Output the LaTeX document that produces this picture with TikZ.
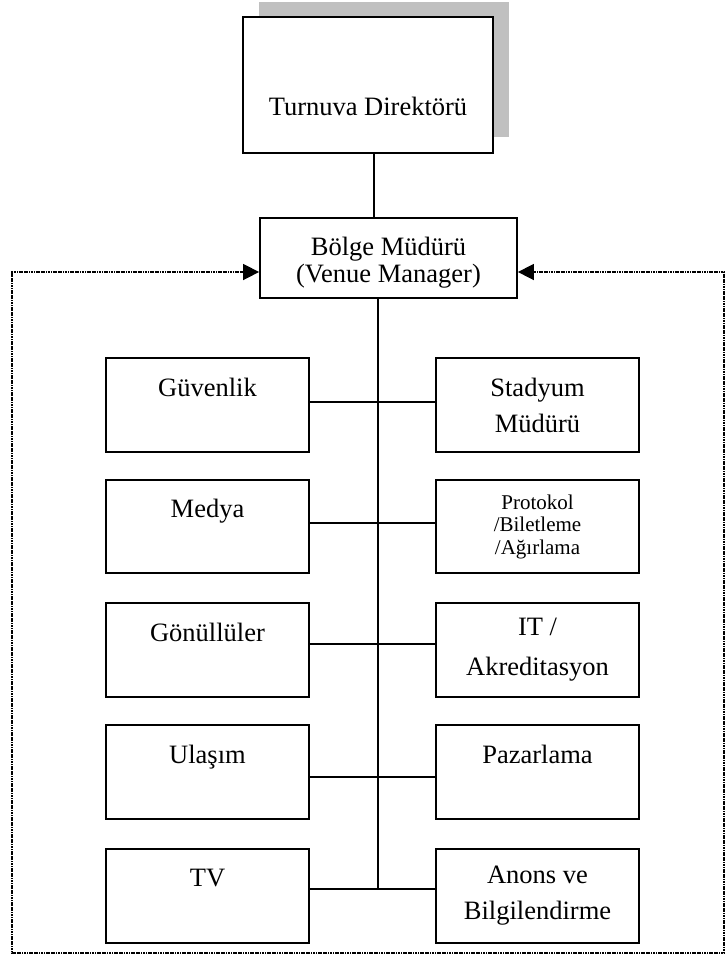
\documentclass[tikz,border=0pt]{standalone}
\usepackage{fontspec}
\setmainfont{Liberation Serif}
\usetikzlibrary{arrows.meta}
\begin{document}
\begin{tikzpicture}[x=1pt,y=-1pt,
  unit/.style={draw=black, line width=1.8pt, fill=white, rectangle, inner sep=0pt,
    align=center, minimum width=203pt, minimum height=94pt,
    font=\fontsize{26.5}{36}\selectfont},
  small/.style={font=\fontsize{21}{22.5}\selectfont},
  link/.style={line width=1.8pt},
  feedback/.style={line width=1.6pt, dash pattern=on 1.2pt off 0.5pt,
    {Triangle[length=16pt,width=16pt]}-{Triangle[length=16pt,width=16pt]}},
  label/.style={font=\fontsize{26.5}{30}\selectfont, align=center, inner sep=0pt}
]
\useasboundingbox (0,0) rectangle (725,954);

% director box with its offset shadow
\fill[fill={rgb,255:red,192;green,192;blue,192}] (259,2) rectangle (509,137);
\node[draw=black, line width=2.2pt, fill=white, minimum width=250pt, minimum height=136pt, inner sep=0pt]
  (tdir) at (368,85) {};
\node[label] (tdirtxt) at (368,106) {Turnuva Direktörü};

% venue manager (the strut lowers the two lines a little)
\node[unit, minimum width=257pt, minimum height=80pt, font=\fontsize{26.5}{27}\selectfont]
  (bolge) at (388.5,258) {\rule{0pt}{27pt}Bölge Müdürü\\(Venue Manager)};

% departments, left column
\node[unit] (guv) at (207.5,405)   {Güvenlik\\\mbox{}};
\node[unit, minimum height=93pt] (med) at (207.5,526.5) {Medya\\\mbox{}};
\node[unit] (gon) at (207.5,650)   {Gönüllüler\\\mbox{}};
\node[unit] (ula) at (207.5,772)   {Ulaşım\\\mbox{}};
\node[unit] (tv)  at (207.5,896)   {TV\\\mbox{}};

% departments, right column
\node[unit] (sta) at (537.5,405)   {Stadyum\\Müdürü};
\node[unit, minimum height=93pt, small] (pro) at (537.5,526.5) {Protokol\\/Biletleme\\/Ağırlama};
\node[unit, font=\fontsize{26.5}{40}\selectfont] (itk) at (537.5,650) {IT /\\Akreditasyon};
\node[unit] (paz) at (537.5,772)   {Pazarlama\\\mbox{}};
\node[unit] (ano) at (537.5,896)   {Anons ve\\Bilgilendirme};

% junctions on the central spine
\coordinate (top) at (374,0);
\coordinate (j1) at (378,402);
\coordinate (j2) at (378,523);
\coordinate (j3) at (378,644);
\coordinate (j4) at (378,777);
\coordinate (j5) at (378,889);

\draw[link] (tdir.south -| top) -- (bolge.north -| top);
\draw[link] (bolge.south -| j1) -- (j5);
\draw[link] (guv.east |- j1) -- (sta.west |- j1);
\draw[link] (med.east |- j2) -- (pro.west |- j2);
\draw[link] (gon.east |- j3) -- (itk.west |- j3);
\draw[link] (ula.east |- j4) -- (paz.west |- j4);
\draw[link] (tv.east |- j5) -- (ano.west |- j5);

% dotted feedback loop around the departments
\coordinate (fl) at (12,272);
\coordinate (fr) at (724,272);
\coordinate (fb) at (0,953);
\draw[feedback] (bolge.east |- fr) -- (fr) -- (fr |- fb) -- (fl |- fb) -- (fl) -- (bolge.west |- fl);
\end{tikzpicture}
\end{document}
